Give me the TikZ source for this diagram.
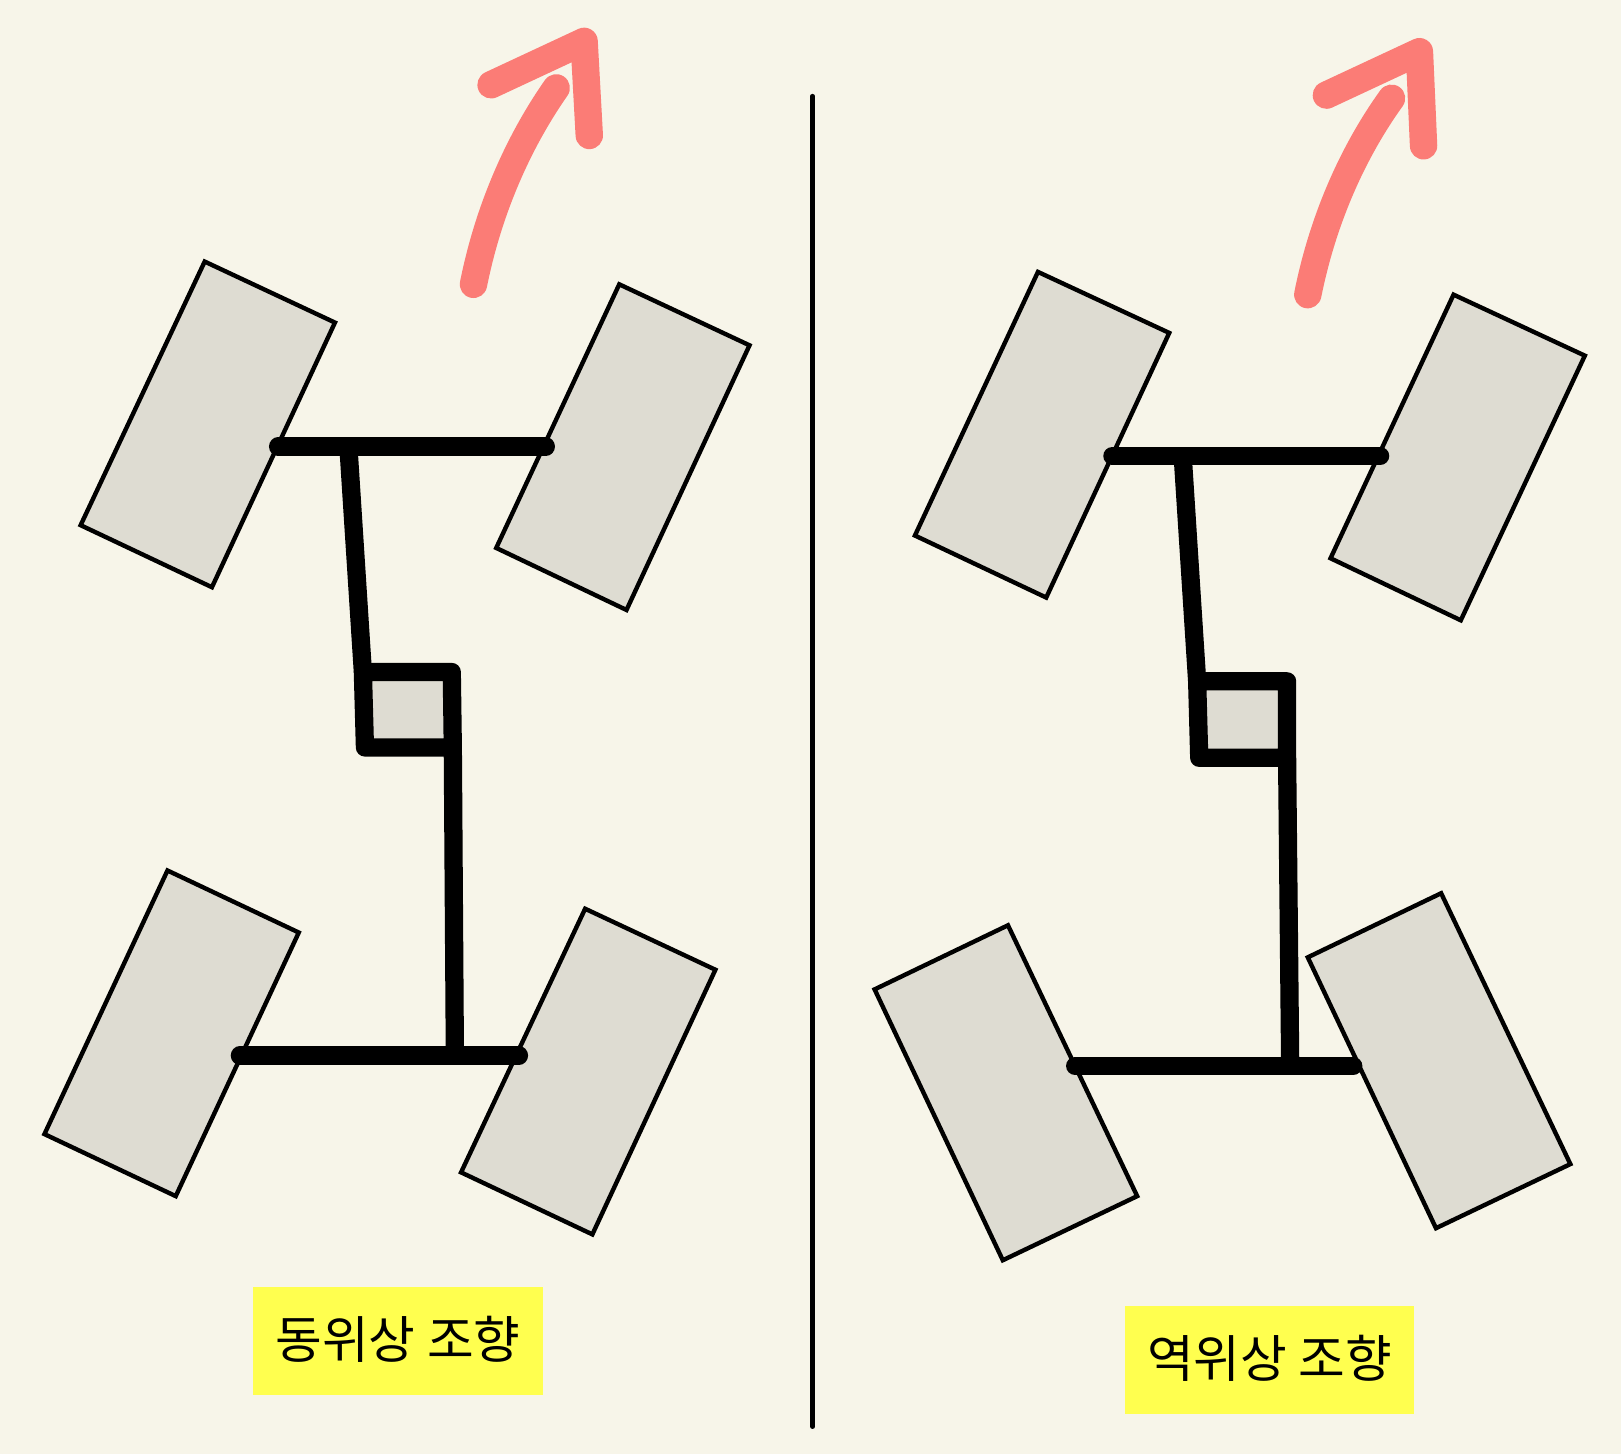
\documentclass[tikz,border=0pt]{standalone}
\usepackage{fontspec}
\newfontfamily\korfont{Noto Sans CJK KR}
\definecolor{paper}{HTML}{F7F5E9}
\definecolor{tyre}{HTML}{DEDCD2}
\definecolor{marker}{HTML}{FFFF4F}
\definecolor{turn}{HTML}{FB7C76}
\newcommand{\captiontext}[1]{\raisebox{1.8pt}{#1}\hspace{2.4pt}}
\tikzset{
  wheel/.style={draw=black,fill=tyre,line width=1.25pt,line join=miter},
  axle/.style={draw=black,line width=5.2pt,line cap=round,line join=round},
  turnarrow/.style={draw=turn,line width=7.8pt,line cap=round,line join=round},
  caption/.style={fill=marker,minimum width=2.895cm,minimum height=1.075cm,inner sep=0pt,font=\korfont\fontsize{14.45pt}{17pt}\selectfont}
}
\begin{document}
\begin{tikzpicture}[x=0.010338cm,y=-0.010338cm]
  \useasboundingbox (0,0) rectangle (1568,1406.5);
  \fill[paper] (0,0) rectangle (1568,1406.5);

  % left: same phase
  \draw[wheel] (198,253) -- (324,312) -- (205,568) -- (78,508) -- cycle;
  \draw[wheel] (599,275) -- (725,334) -- (606,590) -- (480,530) -- cycle;
  \draw[wheel] (162,842) -- (289,902) -- (170,1157) -- (43,1097) -- cycle;
  \draw[wheel] (566,879) -- (692,938) -- (573,1194) -- (446,1134) -- cycle;
  \draw[axle] (269,432) -- (528,432);
  \draw[axle] (232,1021) -- (502,1021);
  \draw[axle,line cap=butt] (337,432) -- (351,650);
  \draw[axle,fill=tyre] (351,650) -- (437,650) -- (438,723) -- (353,723) -- cycle;
  \draw[axle,line cap=butt] (438,723) -- (440,1021);
  \draw[turnarrow] (458,275) .. controls (473,200) and (503,135) .. (538,85);
  \draw[turnarrow] (475,82) -- (565,40) -- (570,131);
  \node[caption] (samephase) at (385,1297) {\captiontext{동위상 조향}};

  \draw[black,line width=1.3pt,line cap=round] (786,93) -- (786,1380);

  % right: opposite phase
  \draw[wheel] (1004,263) -- (1131,322) -- (1012,578) -- (885,518) -- cycle;
  \draw[wheel] (1406,285) -- (1533,344) -- (1413,600) -- (1287,540) -- cycle;
  \draw[wheel] (975,895) -- (1100,1157) -- (970,1219) -- (846,957) -- cycle;
  \draw[wheel] (1394,864) -- (1519,1126) -- (1389,1188) -- (1265,926) -- cycle;
  \draw[axle] (1076,441) -- (1335,441);
  \draw[axle] (1040,1031) -- (1309,1031);
  \draw[axle,line cap=butt] (1144,441) -- (1158,659);
  \draw[axle,fill=tyre] (1158,659) -- (1245,659) -- (1245,733) -- (1160,733) -- cycle;
  \draw[axle,line cap=butt] (1245,733) -- (1248,1031);
  \draw[turnarrow] (1265,285) .. controls (1280,210) and (1310,145) .. (1346,95);
  \draw[turnarrow] (1283,92) -- (1373,50) -- (1377,141);
  \node[caption] (oppositephase) at (1228,1315.3) {\captiontext{역위상 조향}};
\end{tikzpicture}
\end{document}
